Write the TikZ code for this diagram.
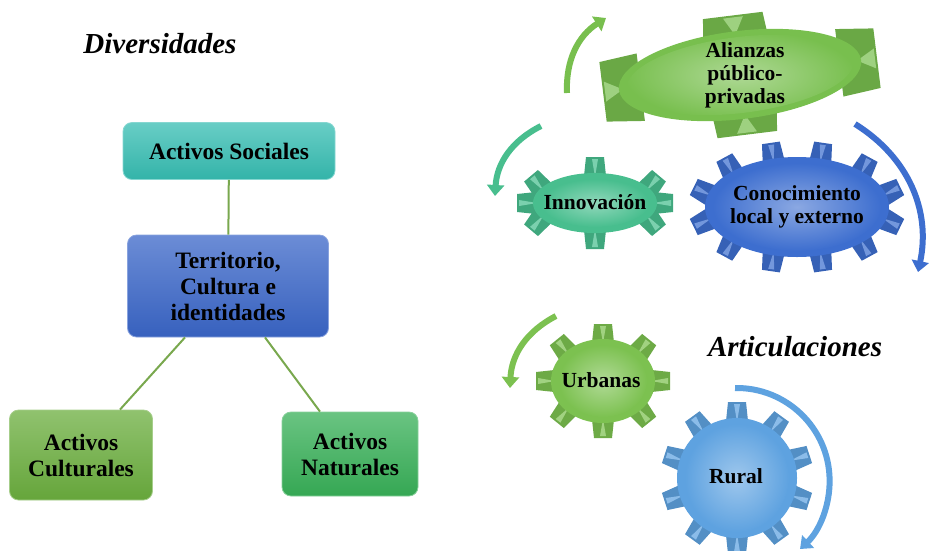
\documentclass[tikz,border=0pt]{standalone}
\usepackage{fontspec}
\setmainfont{Liberation Serif}
\usepackage{tikz}
\usetikzlibrary{arrows.meta}

\definecolor{socialcol}{HTML}{36BDB2}
\definecolor{territcol}{HTML}{3A66C8}
\definecolor{culturcol}{HTML}{6BAE3E}
\definecolor{naturcol}{HTML}{38B058}
\definecolor{linkcol}{HTML}{79A84E}
\definecolor{aliancol}{HTML}{78BF4E}
\definecolor{innovcol}{HTML}{48BE8E}
\definecolor{conoccol}{HTML}{3D6ECF}
\definecolor{urbancol}{HTML}{7CC150}
\definecolor{ruralcol}{HTML}{5EA2E0}

% gear: centre, rx, ry, tooth angles, tilt, colour, tooth height, tooth half width
\newcommand{\gear}[8]{%
  \begin{scope}[shift={#1}, rotate=#5]
    \foreach \ga in {#4}{
      \pgfmathsetmacro\gn{atan2(#2*sin(\ga), #3*cos(\ga))}
      \fill[#6!88!black, shift={(\ga:#2 and #3)}, rotate=\gn]
        (-22,-#8-4) -- (#7,-#8) -- (#7,#8) -- (-22,#8+4) -- cycle;
      \fill[#6!72!white, shift={(\ga:#2 and #3)}, rotate=\gn]
        (-4,0) -- (#7-2,-#8/3) -- (#7-2,#8/3) -- cycle;
    }
    \fill[#6] (0,0) ellipse [x radius=#2, y radius=#3];
    \shade[inner color=#6!60!white, outer color=#6] (0,0)
      ellipse [x radius=#2-8, y radius=#3-6];
  \end{scope}
}

\begin{document}
\begin{tikzpicture}[x=1pt, y=1pt,
  box/.style={rounded corners=9pt, draw=#1!60!white, line width=0.8pt,
    top color=#1!75!white, bottom color=#1!95!black, align=center,
    font=\fontsize{23.5}{26}\selectfont\bfseries, inner sep=2pt},
  gtext/.style={align=center, font=\fontsize{21.5}{23}\selectfont\bfseries},
  title/.style={font=\fontsize{29}{32}\selectfont\bfseries\itshape},
  link/.style={linkcol, line width=2pt},
  bigarrow/.style={line width=6pt, -{Triangle[width=17pt,length=11pt]}}]
  \useasboundingbox (0,0) rectangle (933,-550);

  % left: diversidades
  \node[title] (divers) at (160,-44) {Diversidades};
  \node[box=socialcol, minimum width=212pt, minimum height=57pt] (sociales)
    at (229,-151) {Activos Sociales};
  \node[box=territcol, minimum width=201pt, minimum height=102pt] (territorio)
    at (228,-286) {Territorio,\\Cultura e\\identidades};
  \node[box=culturcol, minimum width=143pt, minimum height=90pt] (culturales)
    at (81,-455) {Activos\\Culturales};
  \node[box=naturcol, minimum width=136pt, minimum height=84pt] (naturales)
    at (350,-454) {Activos\\Naturales};

  \draw[link] (sociales) -- (territorio);
  \draw[link] ([xshift=-43pt]territorio.south) -- ([xshift=39pt]culturales.north);
  \draw[link] ([xshift=37pt]territorio.south) -- ([xshift=-30pt]naturales.north);

  % right: articulaciones
  \draw[bigarrow, aliancol] (567,-93) to[bend left=30] (606,-18);
  \draw[bigarrow, innovcol] (541,-126) to[bend right=30] (495,-196);
  \draw[bigarrow, conoccol] (855,-124) to[bend left=35] (918,-272);
  \draw[bigarrow, urbancol] (556,-316) to[bend right=30] (510,-388);
  \draw[bigarrow, ruralcol] (735,-388) arc[start angle=91, end angle=-47, radius=93];

  \gear{(740,-75)}{122}{44}{0,90,180,270}{7}{aliancol}{16}{30}
  \gear{(595,-203)}{62}{30}{0,30,-30,90,150,180,210,270}{0}{innovcol}{16}{9}
  \gear{(797,-207)}{92}{50}{15,45,...,345}{0}{conoccol}{16}{9}
  \gear{(603,-381)}{52}{42}{0,45,...,315}{0}{urbancol}{15}{9}
  \gear{(737,-478)}{60}{60}{90,126,...,414}{0}{ruralcol}{16}{9}

  \node[gtext] (alianzas) at (745,-75) {Alianzas\\público-\\privadas};
  \node[gtext] (innovacion) at (595,-202) {Innovación};
  \node[gtext] (conocimiento) at (797,-207) {Conocimiento\\local y externo};
  \node[gtext] (urbanas) at (601,-380) {Urbanas};
  \node[gtext] (rural) at (736,-476) {Rural};
  \node[title] (articul) at (795,-347) {Articulaciones};
\end{tikzpicture}
\end{document}
